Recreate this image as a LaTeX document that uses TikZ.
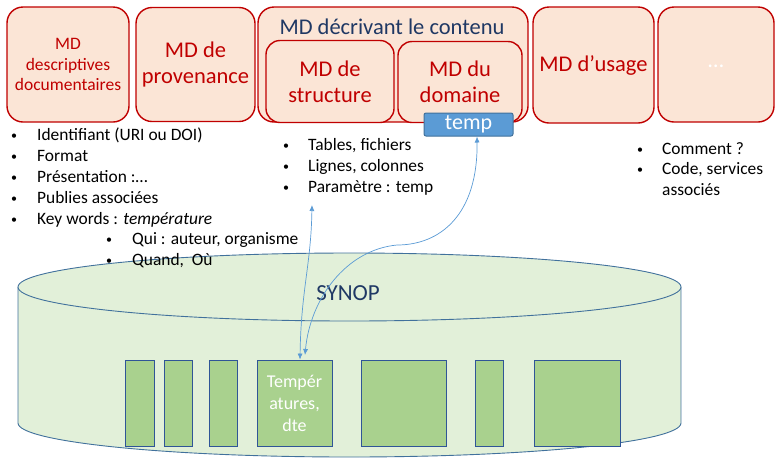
\documentclass[tikz,border=0pt]{standalone}
\usepackage{fontspec}
\setmainfont{Carlito}
\usetikzlibrary{arrows.meta}
\definecolor{mdred}{HTML}{C00000}
\definecolor{mdfill}{HTML}{FBE5D6}
\definecolor{navy}{HTML}{1F3864}
\definecolor{tempfill}{HTML}{5B9BD5}
\definecolor{tempdraw}{HTML}{41719C}
\definecolor{cylfill}{HTML}{E2F0D9}
\definecolor{cyldraw}{HTML}{41719C}
\definecolor{colfill}{HTML}{A9D18E}
\definecolor{coldraw}{HTML}{2F5597}
\definecolor{arrowc}{HTML}{5B9BD5}
\newcommand{\bul}[1]{\makebox[#1][l]{\raisebox{1pt}{\fontsize{12}{12}\selectfont\textbullet}}}
\begin{document}
\begin{tikzpicture}[x=1pt,y=-1pt,
  mdbox/.style={draw=mdred, fill=mdfill, line width=1.4pt, rounded corners=16pt,
    text=mdred, align=center, inner sep=0pt, font=\fontsize{22.5}{26}\selectfont},
  item/.style={anchor=base west, inner sep=0pt, font=\fontsize{17.4}{20}\selectfont},
  colbox/.style={draw=coldraw, fill=colfill, line width=0.8pt, inner sep=0pt,
    minimum height=86pt, text=white, align=center, font=\fontsize{18}{22}\selectfont},
  link/.style={draw=arrowc, line width=0.7pt, {Latex[length=6pt,width=5pt]}-{Latex[length=6pt,width=5pt]}}
]
\useasboundingbox (0,0) rectangle (775,459);
% top boxes
\node[mdbox, minimum width=122pt, minimum height=115pt, font=\fontsize{17.5}{20.5}\selectfont] (desc) at (68,64.5) {MD\\descriptives\\documentaires};
\node[mdbox, minimum width=119pt, minimum height=114pt] (prov) at (195.5,64.5) {MD de\\provenance};
\node[mdbox, minimum width=270pt, minimum height=115pt] (cont) at (393,64.5) {};
\node[text=navy, font=\fontsize{22.5}{26}\selectfont, inner sep=0pt] (conttitle) at (392,27) {MD décrivant le contenu};
\node[mdbox, rounded corners=14pt, minimum width=128pt, minimum height=82pt] (struct) at (330,81.5) {MD de\\structure};
\node[mdbox, rounded corners=14pt, minimum width=124pt, minimum height=81pt] (dom) at (460,82) {MD du\\domaine};
\node[draw=tempdraw, fill=tempfill, line width=1pt, rounded corners=2pt, minimum width=89pt, minimum height=23pt, inner sep=0pt, text=white, font=\fontsize{22}{24}\selectfont] (temp) at (468.5,124.5) {temp};
\node[mdbox, minimum width=121pt, minimum height=116pt] (usage) at (593.5,65) {MD d’usage};
\node[mdbox, minimum width=116pt, minimum height=115pt, text=white] (dots) at (716,64.5) {\raisebox{-6pt}{…}};
% cylinder
\fill[cylfill] (18,287) rectangle (681,423);
\fill[cylfill] (349.5,423) ellipse [x radius=331.5, y radius=34];
\draw[cyldraw, line width=0.9pt] (18,287) -- (18,423) arc[start angle=180, end angle=0, x radius=331.5, y radius=34] -- (681,287);
\draw[cyldraw, line width=0.9pt, fill=cylfill] (349.5,287) ellipse [x radius=331.5, y radius=34];
\node[text=navy, font=\fontsize{23}{26}\selectfont, inner sep=0pt] (synop) at (348,293) {SYNOP};
% left list
\node[item] (l1) at (11,140) {\bul{26pt}Identifiant (URI ou DOI)};
\node[item] (l2) at (11,161) {\bul{26pt}Format};
\node[item] (l3) at (11,182) {\bul{26pt}Présentation :…};
\node[item] (l4) at (11,203) {\bul{26pt}Publies associées};
\node[item] (l5) at (11,224) {\bul{26pt}Key words : \textit{température}};
\node[item] (l6) at (106,244.5) {\bul{26pt}Qui : auteur, organisme};
\node[item] (l7) at (106,265.5) {\bul{26pt}Quand,~ Où};
% middle list
\node[item] (m1) at (283,150) {\bul{25pt}Tables, fichiers};
\node[item] (m2) at (283,171) {\bul{25pt}Lignes, colonnes};
\node[item] (m3) at (283,192) {\bul{25pt}Paramètre~: temp};
% right list
\node[item] (r1) at (637,154) {\bul{25pt}Comment ?};
\node[item] (r2) at (637,174.5) {\bul{25pt}Code, services};
\node[item] (r3) at (662,195.5) {associés};
% columns
\node[colbox, minimum width=29pt] (c1) at (139.5,403) {};
\node[colbox, minimum width=28pt] (c2) at (178,403) {};
\node[colbox, minimum width=28pt] (c3) at (223,403) {};
\node[colbox, minimum width=75pt] (c4) at (294.5,403) {Tempér\\atures,\\dte};
\node[colbox, minimum width=85pt] (c5) at (403.5,403) {};
\node[colbox, minimum width=28pt] (c6) at (489,403) {};
\node[colbox, minimum width=86pt] (c7) at (577,403) {};
% connectors
\coordinate (listend) at (312,205);
\coordinate (c4top) at (305,355);
\draw[link] (listend) .. controls (311,265) and (301,290) .. ([xshift=5.5pt]c4.north);
\draw[link] ([xshift=8.5pt]temp.south) .. controls (478,215) and (440,245) .. (397,245)
  .. controls (345,250) and (310,300) .. (c4top);
\end{tikzpicture}
\end{document}
